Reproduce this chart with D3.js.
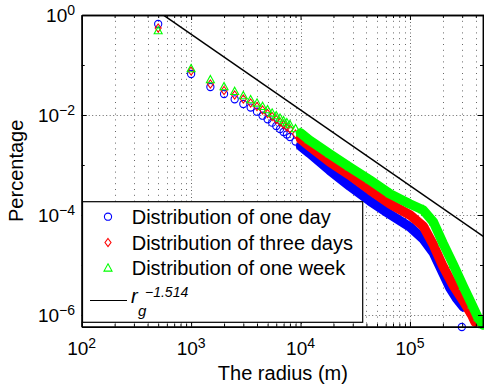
<!DOCTYPE html>
<html>
<head>
<meta charset="utf-8">
<script src="https://cdn.jsdelivr.net/npm/d3@7/dist/d3.min.js"></script>
<style>
  body { margin: 0; background: #fff; }
  svg { display: block; font-family: "Liberation Sans", Arial, Helvetica, sans-serif; }
</style>
</head>
<body>
<svg id="chart"></svg>
<script>
// radius bins (m) shared by the three series
const radius = [500, 1000, 1500, 2000, 2500, 3000, 3500, 4000, 4500, 5000, 5500, 6000,
  6500, 7000, 7500, 8000, 9000, 10000, 12000, 18500, 28000, 43000, 66000, 100000,
  132000, 164000, 200000];

// percentages
const oneDay = [0.661, 0.0661, 0.0363, 0.0263, 0.0206, 0.0166, 0.0141, 0.01164, 0.00968,
  0.0082, 0.00702, 0.00603, 0.00525, 0.00457, 0.00407, 0.00363, 0.00295, 0.0024, 0.00174,
  7.76e-4, 3.8e-4, 1.91e-4, 1.02e-4, 5.75e-5, 3.31e-5, 1.74e-5, 6.9e-6];
const threeDays = [0.55, 0.0759, 0.0417, 0.0309, 0.0251, 0.0209, 0.0174, 0.0148, 0.0126,
  0.0107, 0.00933, 0.00813, 0.00724, 0.00646, 0.00575, 0.00525, 0.00417, 0.00331, 0.0024,
  0.00115, 6.3e-4, 3.16e-4, 1.66e-4, 1.0e-4, 6.0e-5, 2.5e-5, 9.5e-6];
const oneWeek = [0.479, 0.0832, 0.0501, 0.0363, 0.0292, 0.024, 0.02, 0.01714, 0.01466,
  0.0126, 0.01081, 0.00955, 0.00851, 0.00759, 0.00692, 0.00631, 0.00525, 0.00437, 0.00316,
  0.00166, 9.12e-4, 5.01e-4, 2.63e-4, 1.66e-4, 1.26e-4, 7.2e-5, 2.75e-5];

// tails beyond 200 km (each series ends at its own radius)
const oneDayTailR = [232000, 265000, 307000];
const oneDayTailP = [3.47e-6, 2.19e-6, 1.45e-6];
const oneDayStrayR = [298000];
const oneDayStrayP = [5.75e-7];
const threeDaysTailR = [250000, 308000, 367000, 394000];
const threeDaysTailP = [3.8e-6, 1.9e-6, 1.0e-6, 7.2e-7];
const oneWeekTailR = [250000, 308000, 370000, 420000, 466000];
const oneWeekTailP = [1.0e-5, 3.68e-6, 1.58e-6, 8.7e-7, 6.3e-7];

// fitted power law r_g^-1.514
const fitExponent = -1.514;
const fitCoef = 1.436e4;

const xTickExp = [2, 3, 4, 5];
const yTickExp = [0, -2, -4, -6];
const legendLabels = ['Distribution of one day', 'Distribution of three days', 'Distribution of one week'];

const width = 484, height = 390;
const plotLeft = 81.7, plotRight = 484, plotTop = 15, plotBottom = 326.7;

const svg = d3.select('#chart').attr('width', width).attr('height', height);
svg.append('rect').attr('width', width).attr('height', height).attr('fill', '#fff');

const x = d3.scaleLog().domain([1e2, 4.75e5]).range([plotLeft, plotRight]);
const y = d3.scaleLog().domain([5.83e-7, 1]).range([plotBottom, plotTop]);

// minor / major tick positions
const xMajor = xTickExp.map(e => Math.pow(10, e));
const xMinor = [];
for (let e = 2; e <= 5; e++) {
  for (let m = 2; m <= 9; m++) {
    const v = m * Math.pow(10, e);
    if (v <= x.domain()[1]) xMinor.push(v);
  }
}
const yMajor = yTickExp.map(e => Math.pow(10, e));
const yMinor = [1e-1, 1e-3, 1e-5];

// grid
const grid = svg.append('g').attr('stroke', '#666').attr('stroke-width', 1).attr('fill', 'none');
grid.selectAll('.vminor').data(xMinor).enter().append('line')
  .attr('x1', d => Math.round(x(d)) + 0.5).attr('x2', d => Math.round(x(d)) + 0.5)
  .attr('y1', plotTop).attr('y2', plotBottom)
  .attr('stroke-dasharray', '1,4.8');
grid.selectAll('.vmajor').data(xMajor.slice(1)).enter().append('line')
  .attr('x1', d => Math.round(x(d)) + 0.5).attr('x2', d => Math.round(x(d)) + 0.5)
  .attr('y1', plotTop).attr('y2', plotBottom)
  .attr('stroke-dasharray', '1,2.5');
grid.selectAll('.hmajor').data(yMajor.slice(1)).enter().append('line')
  .attr('x1', plotLeft).attr('x2', plotRight)
  .attr('y1', d => Math.round(y(d)) + 0.5).attr('y2', d => Math.round(y(d)) + 0.5)
  .attr('stroke-dasharray', '1,2.5');

// power-law reference line
svg.append('clipPath').attr('id', 'clip').append('rect')
  .attr('x', plotLeft).attr('y', plotTop).attr('width', plotRight - plotLeft).attr('height', plotBottom - plotTop);
const fitPts = x.domain().map(r => [r, fitCoef * Math.pow(r, fitExponent)]);
svg.append('path')
  .attr('clip-path', 'url(#clip)')
  .attr('d', d3.line().x(d => x(d[0])).y(d => y(d[1]))(fitPts))
  .attr('stroke', '#000').attr('stroke-width', 1.5).attr('fill', 'none');

// marker shapes
const markers = {
  circle: g => g.append('circle').attr('r', 3.6),
  diamond: g => g.append('path').attr('d', 'M0,-4L3,0L0,4L-3,0Z'),
  triangle: g => g.append('path').attr('d', 'M0,-4.5L4,2.8L-4,2.8Z')
};

const series = [
  { name: legendLabels[0], color: '#0000ff', marker: 'circle',
    pts: radius.map((r, i) => [r, oneDay[i]]).concat(oneDayTailR.map((r, i) => [r, oneDayTailP[i]])),
    extra: oneDayStrayR.map((r, i) => [r, oneDayStrayP[i]]) },
  { name: legendLabels[1], color: '#ff0000', marker: 'diamond',
    pts: radius.map((r, i) => [r, threeDays[i]]).concat(threeDaysTailR.map((r, i) => [r, threeDaysTailP[i]])),
    extra: [] },
  { name: legendLabels[2], color: '#00ff00', marker: 'triangle',
    pts: radius.map((r, i) => [r, oneWeek[i]]).concat(oneWeekTailR.map((r, i) => [r, oneWeekTailP[i]])),
    extra: [] }
];

const bandLine = d3.line().x(d => x(d[0])).y(d => y(d[1]));

series.forEach(s => {
  const g = svg.append('g');
  // dense overlapping markers form a solid band beyond 10 km
  g.append('path')
    .attr('d', bandLine(s.pts.filter(d => d[0] >= 10000)))
    .attr('stroke', s.color).attr('stroke-width', 9.5)
    .attr('stroke-linejoin', 'round').attr('stroke-linecap', 'round')
    .attr('fill', 'none');
  g.selectAll('.m').data(s.pts.concat(s.extra)).enter().append('g')
    .attr('transform', d => `translate(${x(d[0])},${y(d[1])})`)
    .each(function () { markers[s.marker](d3.select(this)); })
    .attr('fill', 'none').attr('stroke', s.color).attr('stroke-width', 1.1);
});

// axes with inward ticks
const axes = svg.append('g');
const bottomMajor = d3.axisBottom(x).tickValues(xMajor).tickSize(-5).tickSizeOuter(0).tickFormat('');
const bottomMinor = d3.axisBottom(x).tickValues(xMinor).tickSize(-3).tickSizeOuter(0).tickFormat('');
const topMajor = d3.axisTop(x).tickValues(xMajor).tickSize(-5).tickSizeOuter(0).tickFormat('');
const topMinor = d3.axisTop(x).tickValues(xMinor).tickSize(-3).tickSizeOuter(0).tickFormat('');
const leftMajor = d3.axisLeft(y).tickValues(yMajor).tickSize(-5).tickSizeOuter(0).tickFormat('');
const leftMinor = d3.axisLeft(y).tickValues(yMinor).tickSize(-3).tickSizeOuter(0).tickFormat('');
const rightMajor = d3.axisRight(y).tickValues(yMajor).tickSize(-5).tickSizeOuter(0).tickFormat('');
const rightMinor = d3.axisRight(y).tickValues(yMinor).tickSize(-3).tickSizeOuter(0).tickFormat('');

axes.append('g').attr('transform', `translate(0,${plotBottom})`).call(bottomMajor);
axes.append('g').attr('transform', `translate(0,${plotBottom})`).call(bottomMinor);
axes.append('g').attr('transform', `translate(0,${plotTop})`).call(topMajor);
axes.append('g').attr('transform', `translate(0,${plotTop})`).call(topMinor);
axes.append('g').attr('transform', `translate(${plotLeft},0)`).call(leftMajor);
axes.append('g').attr('transform', `translate(${plotLeft},0)`).call(leftMinor);
axes.append('g').attr('transform', `translate(${plotRight - 1},0)`).call(rightMajor);
axes.append('g').attr('transform', `translate(${plotRight - 1},0)`).call(rightMinor);
axes.selectAll('.domain').attr('stroke', '#000').attr('stroke-width', 1.5);
axes.selectAll('.tick line').attr('stroke', '#000');

// tick labels 10^n
const fmtExp = e => (e < 0 ? '\u2212' + Math.abs(e) : String(e));
const xLabels = svg.append('g').attr('font-size', 19).attr('fill', '#000');
xTickExp.forEach(e => {
  const t = xLabels.append('text').attr('x', x(Math.pow(10, e))).attr('y', 355).attr('text-anchor', 'middle');
  t.append('tspan').text('10');
  t.append('tspan').attr('dy', -7).attr('font-size', 14).text(fmtExp(e));
});
const yLabels = svg.append('g').attr('font-size', 19).attr('fill', '#000');
yTickExp.forEach(e => {
  const t = yLabels.append('text').attr('x', 75).attr('y', y(Math.pow(10, e)) + 6.7).attr('text-anchor', 'end');
  t.append('tspan').text('10');
  t.append('tspan').attr('dy', -7).attr('font-size', 14).text(fmtExp(e));
});

// axis titles
svg.append('text').attr('x', (plotLeft + plotRight) / 2).attr('y', 380).attr('text-anchor', 'middle')
  .attr('font-size', 20).text('The radius (m)');
svg.append('text').attr('transform', `translate(23,${(plotTop + plotBottom) / 2}) rotate(-90)`)
  .attr('text-anchor', 'middle').attr('font-size', 20).text('Percentage');

// legend
const legend = svg.append('g');
legend.append('rect').attr('x', 82.5).attr('y', 201.7).attr('width', 280.2).attr('height', 120.6)
  .attr('fill', '#fff').attr('stroke', '#000').attr('stroke-width', 1.2);
series.forEach((s, i) => {
  const rowY = 216.7 + i * 25.8;
  const m = legend.append('g').attr('transform', `translate(108,${rowY})`)
    .attr('fill', 'none').attr('stroke', s.color).attr('stroke-width', 1.1);
  markers[s.marker](m);
  legend.append('text').attr('x', 131.7).attr('y', rowY + 7).attr('font-size', 20).text(s.name);
});
legend.append('line').attr('x1', 90).attr('x2', 127).attr('y1', 300.5).attr('y2', 300.5)
  .attr('stroke', '#000').attr('stroke-width', 1);
legend.append('text').attr('x', 131).attr('y', 303).attr('font-size', 20).attr('font-style', 'italic').text('r');
legend.append('text').attr('x', 138).attr('y', 316).attr('font-size', 15).attr('font-style', 'italic').text('g');
legend.append('text').attr('x', 145).attr('y', 296.5).attr('font-size', 14).attr('font-style', 'italic')
  .text('\u2212' + Math.abs(fitExponent).toFixed(3));
</script>
</body>
</html>
